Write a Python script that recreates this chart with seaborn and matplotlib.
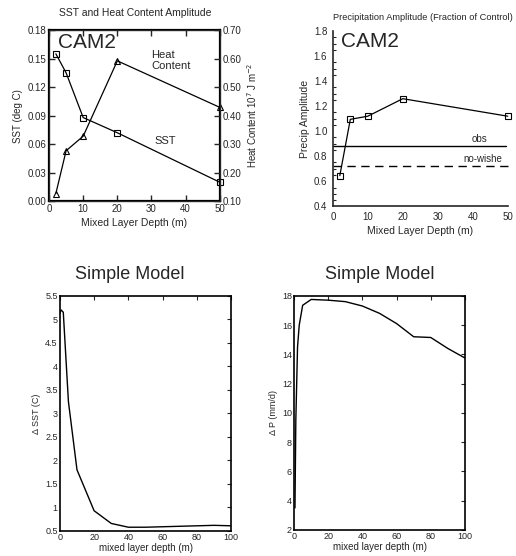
import numpy as np
import pandas as pd
import matplotlib
matplotlib.use("Agg")
import matplotlib.pyplot as plt
import seaborn as sns
from matplotlib.ticker import MultipleLocator, FormatStrFormatter

# CAM2 runs
depth = [2, 5, 10, 20, 50]
sst_amp = [0.155, 0.135, 0.088, 0.072, 0.020]
heat_amp = [0.127, 0.277, 0.328, 0.592, 0.429]
precip_amp = [0.645, 1.095, 1.12, 1.26, 1.12]
obs_level = 0.885
nowishe_level = 0.72

# simple model
sm_depth_sst = [0, 0.7, 2, 5, 10, 20, 30, 40, 50, 60, 70, 80, 90, 100]
sm_sst = [5.12, 5.2, 5.15, 3.25, 1.8, 0.93, 0.66, 0.58, 0.58, 0.59, 0.60, 0.61, 0.62, 0.61]
sm_depth_p = [0.5, 1, 2, 3, 5, 10, 20, 30, 40, 50, 60, 70, 80, 90, 100]
sm_p = [3.5, 9.5, 14.5, 16.0, 17.35, 17.75, 17.7, 17.6, 17.3, 16.8, 16.1, 15.2, 15.15, 14.4, 13.75]

sns.set_style("white")
plt.rcParams["font.family"] = ["Liberation Sans", "DejaVu Sans"]
plt.rcParams["xtick.direction"] = "in"
plt.rcParams["ytick.direction"] = "in"

fig = plt.figure(figsize=(5.16, 5.56), dpi=100)

mk = dict(markersize=4, markerfacecolor="none", markeredgecolor="black",
          markeredgewidth=0.8, clip_on=False)

# ---- top left: SST and heat content
ax1 = fig.add_axes([0.095, 0.638, 0.331, 0.308])
sns.lineplot(x=depth, y=sst_amp, ax=ax1, color="black", lw=0.9, marker="s", **mk)
ax1.set_xlim(0, 50)
ax1.set_ylim(0, 0.18)
ax1.set_yticks(np.arange(0, 0.181, 0.03))
ax1.yaxis.set_major_formatter(FormatStrFormatter("%.2f"))
ax1.set_xticks([0, 10, 20, 30, 40, 50])
ax1.tick_params(labelsize=7, length=4, width=1, top=True, left=True, bottom=True, pad=2)
for s in ax1.spines.values():
    s.set_linewidth(1.6)
    s.set_color("black")
ax1.set_ylabel("SST (deg C)", fontsize=7, labelpad=3)
ax1.set_xlabel("Mixed Layer Depth (m)", fontsize=7.5, labelpad=3)
ax1.text(2.5, 0.177, "CAM2", fontsize=15, va="top")
ax1.text(30, 0.148, "Heat\nContent", fontsize=8, va="center", linespacing=1.1)
ax1.text(31, 0.063, "SST", fontsize=8, va="center")

ax1b = ax1.twinx()
sns.lineplot(x=depth, y=heat_amp, ax=ax1b, color="black", lw=0.9, marker="^", **mk)
ax1b.set_ylim(0.10, 0.70)
ax1b.set_yticks(np.arange(0.10, 0.701, 0.10))
ax1b.yaxis.set_major_formatter(FormatStrFormatter("%.2f"))
ax1b.tick_params(labelsize=7, length=4, width=1, right=True, pad=2)
ax1b.set_ylabel("Heat Content 10$^7$ J m$^{-2}$", fontsize=7, labelpad=3)
fig.text(0.262, 0.977, "SST and Heat Content Amplitude", fontsize=7.5, ha="center", va="center")

# ---- top right: precip amplitude
ax2 = fig.add_axes([0.645, 0.629, 0.339, 0.315])
sns.lineplot(x=depth, y=precip_amp, ax=ax2, color="black", lw=0.9, marker="s", **mk)
ax2.plot([0, 49.5], [obs_level, obs_level], color="black", lw=1)
ax2.plot([0, 51], [nowishe_level, nowishe_level], color="black", lw=1, ls=(0, (6, 4)),
         clip_on=False)
ax2.text(42, obs_level + 0.015, "obs", fontsize=7, ha="center", va="bottom")
ax2.text(43, nowishe_level + 0.015, "no-wishe", fontsize=7, ha="center", va="bottom")
ax2.text(2.3, 1.79, "CAM2", fontsize=15, va="top")
ax2.set_xlim(0, 50)
ax2.set_ylim(0.4, 1.8)
ax2.set_yticks(np.arange(0.4, 1.81, 0.2))
ax2.yaxis.set_minor_locator(MultipleLocator(0.05))
ax2.yaxis.set_major_formatter(FormatStrFormatter("%.1f"))
ax2.set_xticks([0, 10, 20, 30, 40, 50])
ax2.tick_params(labelsize=7, length=4, width=1, direction="inout", pad=2)
ax2.tick_params(axis="y", which="minor", length=2, width=0.8, direction="in", left=True)
sns.despine(ax=ax2)
for s in ax2.spines.values():
    s.set_linewidth(1.2)
ax2.set_ylabel("Precip Amplitude", fontsize=7.5, labelpad=3)
ax2.set_xlabel("Mixed Layer Depth (m)", fontsize=7.5, labelpad=3)
fig.text(0.645, 0.969, "Precipitation Amplitude (Fraction of Control)", fontsize=6.7,
         ha="left", va="center")

# ---- bottom left: simple model SST
ax3 = fig.add_axes([0.116, 0.045, 0.332, 0.423])
sns.lineplot(x=sm_depth_sst, y=sm_sst, ax=ax3, color="black", lw=1)
ax3.set_xlim(0, 100)
ax3.set_ylim(0.5, 5.5)
ax3.set_yticks(np.arange(0.5, 5.51, 0.5))
ax3.set_yticklabels(["0.5", "1", "1.5", "2", "2.5", "3", "3.5", "4", "4.5", "5", "5.5"])
ax3.set_xticks([0, 20, 40, 60, 80, 100])
ax3.tick_params(labelsize=6.5, length=3, width=0.8, top=True, right=True, pad=1.5)
for s in ax3.spines.values():
    s.set_linewidth(1.2)
    s.set_color("black")
ax3.set_ylabel("\u0394 SST (C)", fontsize=6.5, labelpad=3)
ax3.set_xlabel("mixed layer depth (m)", fontsize=7, labelpad=1)
fig.text(0.252, 0.507, "Simple Model", fontsize=13, ha="center", va="center")

# ---- bottom right: simple model precip
ax4 = fig.add_axes([0.570, 0.047, 0.331, 0.421])
sns.lineplot(x=sm_depth_p, y=sm_p, ax=ax4, color="black", lw=1)
ax4.set_xlim(0, 100)
ax4.set_ylim(2, 18)
ax4.set_yticks(np.arange(2, 18.1, 2))
ax4.set_xticks([0, 20, 40, 60, 80, 100])
ax4.tick_params(labelsize=6.5, length=3, width=0.8, top=True, right=True, pad=1.5)
for s in ax4.spines.values():
    s.set_linewidth(1.2)
    s.set_color("black")
ax4.set_ylabel("\u0394 P (mm/d)", fontsize=6.5, labelpad=3)
ax4.set_xlabel("mixed layer depth (m)", fontsize=7, labelpad=1)
fig.text(0.736, 0.507, "Simple Model", fontsize=13, ha="center", va="center")

fig.savefig("out.png", dpi=100)
